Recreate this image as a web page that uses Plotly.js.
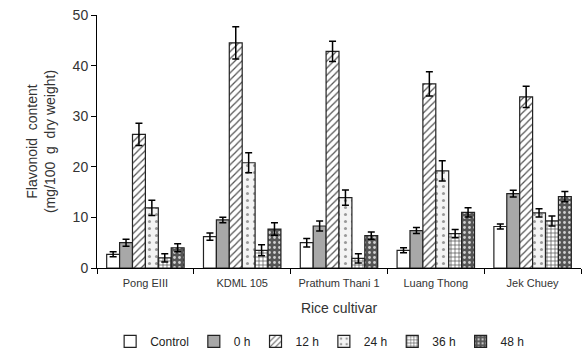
<!DOCTYPE html>
<html><head><meta charset="utf-8">
<script src="https://cdn.plot.ly/plotly-3.0.1.min.js"></script>
<style>html,body{margin:0;padding:0;background:#fff}#chart{width:582px;height:356px}</style>
</head><body><div id="chart"></div>
<script>
const cultivars = ["Pong EIII", "KDML 105", "Prathum Thani 1", "Luang Thong", "Jek Chuey"];
const seriesNames = ["Control", "0 h", "12 h", "24 h", "36 h", "48 h"];
const control = [2.7, 6.2, 5.0, 3.5, 8.2];
const h0 = [5.0, 9.5, 8.3, 7.4, 14.7];
const h12 = [26.4, 44.5, 42.8, 36.4, 33.8];
const h24 = [11.9, 20.8, 13.9, 19.2, 10.9];
const h36 = [2.0, 3.5, 1.9, 6.8, 9.3];
const h48 = [4.0, 7.7, 6.4, 11.0, 14.1];
const errControl = [0.5, 0.7, 0.85, 0.5, 0.5];
const err0 = [0.7, 0.55, 1.0, 0.6, 0.65];
const err12 = [2.2, 3.2, 2.0, 2.4, 2.1];
const err24 = [1.5, 2.0, 1.5, 2.0, 0.8];
const err36 = [0.8, 1.1, 0.9, 0.8, 1.0];
const err48 = [0.8, 1.25, 0.7, 0.9, 1.0];

const values = [control, h0, h12, h24, h36, h48];
const errors = [errControl, err0, err12, err24, err36, err48];
const styles = [
  {color: "#ffffff", pattern: {shape: ""}},
  {color: "#a8a8a8", pattern: {shape: ""}},
  {color: "#ffffff", pattern: {shape: "/", fgcolor: "#555", bgcolor: "#ffffff", size: 5, solidity: 0.25}},
  {color: "#ffffff", pattern: {shape: ".", fgcolor: "#999", bgcolor: "#f4f4f4", size: 7, solidity: 0.15}},
  {color: "#ffffff", pattern: {shape: "+", fgcolor: "#444", bgcolor: "#ffffff", size: 4, solidity: 0.3}},
  {color: "#555555", pattern: {shape: ".", fgcolor: "#cfcfcf", bgcolor: "#555555", size: 5, solidity: 0.25}}
];

const traces = seriesNames.map((name, i) => ({
  type: "bar",
  name: name,
  x: cultivars,
  y: values[i],
  error_y: {type: "data", array: errors[i], visible: true, color: "#000", thickness: 1.5, width: 3.5},
  marker: {color: styles[i].color, pattern: styles[i].pattern, line: {color: "#222", width: 1.2}}
}));

const font = {family: "Liberation Sans, Arial, sans-serif", color: "#333333"};
const layout = {
  width: 582, height: 356,
  margin: {l: 97, r: 1, t: 15, b: 87},
  paper_bgcolor: "#fff", plot_bgcolor: "#fff",
  font: font,
  barmode: "group",
  bargap: 0.2,
  bargroupgap: 0,
  showlegend: true,
  legend: {orientation: "h", x: 0.46, xanchor: "center", y: -0.285, yanchor: "middle",
           font: {family: font.family, size: 12, color: "#222222"}, itemwidth: 30, tracegroupgap: 0,
           traceorder: "normal"},
  xaxis: {
    type: "category",
    tickson: "boundaries",
    ticks: "outside", ticklen: 5, tickcolor: "#000",
    ticklabelstandoff: 5,
    showline: true, linecolor: "#000", linewidth: 1,
    showgrid: false,
    tickfont: {family: font.family, size: 11, color: "#333333"},
    title: {text: "Rice cultivar", font: {family: font.family, size: 14, color: "#333333"}, standoff: 14}
  },
  yaxis: {
    range: [0, 50],
    dtick: 10,
    ticks: "outside", ticklen: 5, tickcolor: "#000",
    showline: true, linecolor: "#000", linewidth: 1,
    showgrid: false, zeroline: false,
    tickfont: {family: font.family, size: 14, color: "#333333"},
    title: {text: "Flavonoid  content<br>(mg/100  g  dry weight)", font: {family: font.family, size: 14, color: "#333333"}, standoff: 13}
  }
};
Plotly.newPlot("chart", traces, layout, {staticPlot: true, displayModeBar: false});
</script></body></html>
